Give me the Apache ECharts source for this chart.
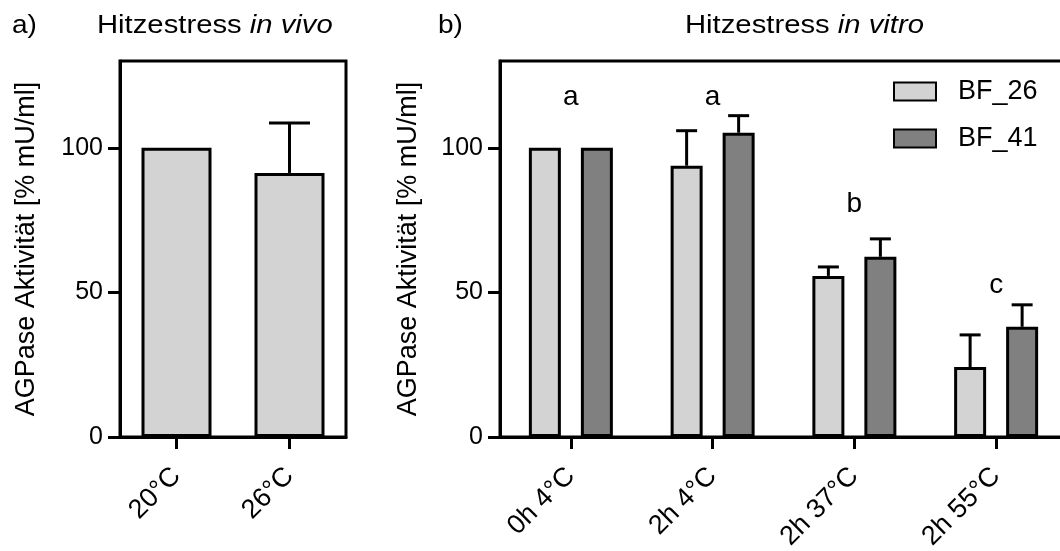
<!DOCTYPE html>
<html>
<head>
<meta charset="utf-8">
<title>AGPase Aktivität – Hitzestress</title>
<script src="https://cdn.jsdelivr.net/npm/echarts@6/dist/echarts.min.js"></script>
<style>
  html, body { margin: 0; padding: 0; background: #fff; }
  #chart { width: 1060px; height: 551px; }
</style>
</head>
<body>
<div id="chart"></div>
<script>
// Panel a: in vivo
const vivoCategories = ['20°C', '26°C'];
const vivoMeans = [100, 91.3];
const vivoErrors = [0, 17.3];

// Panel b: in vitro, two lines
const vitroCategories = ['0h 4°C', '2h 4°C', '2h 37°C', '2h 55°C'];
const seriesNames = ['BF_26', 'BF_41'];
const bf26Means = [100, 93.8, 55.7, 24.2];
const bf26Errors = [0, 12.1, 3.1, 11.1];
const bf41Means = [100, 105.2, 62.3, 38.1];
const bf41Errors = [0, 5.9, 6.2, 7.6];

// Significance groups above each treatment
const groupLetters = ['a', 'a', 'b', 'c'];
const letterHeights = [117.6, 117.6, 80.3, 52.6];

const yTicks = [0, 50, 100];
const yMax = 130;

const FONT = '"Liberation Sans", Arial, sans-serif';
const LIGHT = '#d3d3d3';
const DARK = '#808080';
const LINE_W = 3;

// bar geometry for panel b
const VITRO_BAR_W = 32;
const VITRO_PAIR_STEP = 52;           // centre-to-centre distance of the two bars
const VITRO_GAP = (VITRO_PAIR_STEP - VITRO_BAR_W) / VITRO_BAR_W * 100 + '%';

const chart = echarts.init(document.getElementById('chart'), null, { renderer: 'canvas' });

function errorBarRenderer(offset, capWidth) {
  return function (params, api) {
    const err = api.value(2);
    if (!err) return null;
    const idx = api.value(0);
    const mean = api.value(1);
    const base = api.coord([idx, mean]);
    const top = api.coord([idx, mean + err]);
    const x = base[0] + offset;
    const style = { stroke: '#000', lineWidth: LINE_W, fill: null };
    return {
      type: 'group',
      children: [
        { type: 'line', shape: { x1: x, y1: base[1], x2: x, y2: top[1] }, style },
        { type: 'line', shape: { x1: x - capWidth / 2, y1: top[1], x2: x + capWidth / 2, y2: top[1] }, style }
      ]
    };
  };
}

function letterRenderer(params, api) {
  const p = api.coord([api.value(0), api.value(1)]);
  return {
    type: 'text',
    style: {
      text: groupLetters[params.dataIndex],
      x: p[0], y: p[1],
      align: 'center', verticalAlign: 'middle',
      font: '28px ' + FONT, fill: '#000'
    }
  };
}

// panel headings, slightly widened like the original typesetting
function heading(x, text, scaleX) {
  return {
    type: 'text', x, y: 26, scaleX,
    style: {
      text, fill: '#000', font: '25px ' + FONT,
      verticalAlign: 'middle', align: 'left',
      rich: {
        n: { font: '25px ' + FONT, fill: '#000' },
        i: { font: 'italic 25px ' + FONT, fill: '#000' }
      }
    }
  };
}

const axisLineStyle = { color: '#000', width: LINE_W };

function yAxis(gridIndex, nameGap) {
  return {
    type: 'value', gridIndex, min: 0, max: yMax,
    name: 'AGPase Aktivität [% mU/ml]',
    nameLocation: 'middle', nameRotate: 90, nameGap,
    nameTextStyle: { fontFamily: FONT, fontSize: 27, color: '#000' },
    axisLine: { show: true, lineStyle: axisLineStyle },
    axisTick: { show: true, length: 12, customValues: yTicks, lineStyle: axisLineStyle },
    axisLabel: { customValues: yTicks, margin: 17, fontFamily: FONT, fontSize: 25, color: '#000' },
    splitLine: { show: false }
  };
}

function xAxis(gridIndex, data) {
  return {
    type: 'category', gridIndex, data,
    axisLine: { show: true, lineStyle: axisLineStyle },
    axisTick: { show: true, alignWithLabel: true, length: 12, lineStyle: axisLineStyle },
    axisLabel: { rotate: 45, margin: 35, fontFamily: FONT, fontSize: 27, color: '#000' },
    splitLine: { show: false }
  };
}

const barStyle = (color) => ({ color, borderColor: '#000', borderWidth: LINE_W });

// fixed plot frames; the right frame runs past the canvas edge
const gridBase = { top: 61, bottom: 114, show: true, borderColor: '#000', borderWidth: LINE_W, outerBoundsMode: 'none', containLabel: false };

const option = {
  animation: false,
  backgroundColor: '#fff',
  textStyle: { fontFamily: FONT },
  graphic: [
    heading(12, 'a)', 1.12),
    heading(97, '{n|Hitzestress }{i|in vivo}', 1.17),
    heading(438, 'b)', 1.12),
    heading(685, '{n|Hitzestress }{i|in vitro}', 1.17)
  ],
  legend: {
    data: seriesNames,
    orient: 'vertical', left: 893, top: 78, padding: 0,
    icon: 'rect', itemWidth: 42, itemHeight: 18, itemGap: 20,
    textStyle: { fontFamily: FONT, fontSize: 27, color: '#000', lineHeight: 18, padding: [0, 0, 0, 17] }
  },
  grid: [
    Object.assign({ left: 120, right: 714 }, gridBase),
    Object.assign({ left: 500, right: -7 }, gridBase)
  ],
  xAxis: [xAxis(0, vivoCategories), xAxis(1, vitroCategories)],
  yAxis: [yAxis(0, 80), yAxis(1, 78)],
  series: [
    {
      type: 'custom', name: 'err-vivo', xAxisIndex: 0, yAxisIndex: 0, z: 1,
      renderItem: errorBarRenderer(0, 41),
      data: vivoMeans.map((m, i) => [i, m, vivoErrors[i]]),
      encode: { x: 0, y: 1 }
    },
    {
      type: 'bar', name: 'in vivo', xAxisIndex: 0, yAxisIndex: 0, z: 2,
      barWidth: 70, itemStyle: barStyle(LIGHT),
      data: vivoMeans
    },
    {
      type: 'custom', name: 'err-26', xAxisIndex: 1, yAxisIndex: 1, z: 1,
      renderItem: errorBarRenderer(-VITRO_PAIR_STEP / 2, 21),
      data: bf26Means.map((m, i) => [i, m, bf26Errors[i]]),
      encode: { x: 0, y: 1 }
    },
    {
      type: 'custom', name: 'err-41', xAxisIndex: 1, yAxisIndex: 1, z: 1,
      renderItem: errorBarRenderer(VITRO_PAIR_STEP / 2, 21),
      data: bf41Means.map((m, i) => [i, m, bf41Errors[i]]),
      encode: { x: 0, y: 1 }
    },
    {
      type: 'bar', name: seriesNames[0], xAxisIndex: 1, yAxisIndex: 1, z: 2,
      barWidth: VITRO_BAR_W, barGap: VITRO_GAP, itemStyle: barStyle(LIGHT),
      data: bf26Means
    },
    {
      type: 'bar', name: seriesNames[1], xAxisIndex: 1, yAxisIndex: 1, z: 2,
      barWidth: VITRO_BAR_W, barGap: VITRO_GAP, itemStyle: barStyle(DARK),
      data: bf41Means
    },
    {
      type: 'custom', name: 'letters', xAxisIndex: 1, yAxisIndex: 1, z: 3,
      renderItem: letterRenderer,
      data: letterHeights.map((h, i) => [i, h]),
      encode: { x: 0, y: 1 }
    }
  ]
};

chart.setOption(option);
</script>
</body>
</html>
